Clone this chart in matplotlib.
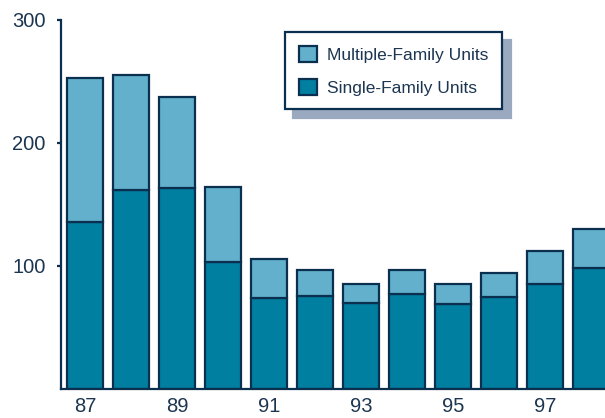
import matplotlib.pyplot as plt
import numpy as np

# Housing units by year (thousands)
years = ['87', '88', '89', '90', '91', '92', '93', '94', '95', '96', '97', '98']
single_family = [136, 162, 163, 103, 74, 76, 70, 77, 69, 75, 85, 98]
multiple_family = [117, 93, 74, 61, 32, 21, 15, 20, 16, 19, 27, 32]

navy = '#0b2f4f'
dark_teal = '#007fa1'
light_teal = '#62b0cb'
text_color = '#1c3550'

plt.rcParams['font.family'] = ['Liberation Sans', 'DejaVu Sans']

fig = plt.figure(figsize=(6.05, 4.18), dpi=100)
ax = fig.add_axes([0.1008, 0.0694, 0.899, 0.8828])

x = np.arange(len(years))
ax.bar(x, single_family, width=0.78, color=dark_teal, edgecolor=navy,
       linewidth=1.6, label='Single-Family Units')
ax.bar(x, multiple_family, width=0.78, bottom=single_family, color=light_teal,
       edgecolor=navy, linewidth=1.6, label='Multiple-Family Units')

ax.set_xlim(-0.522, 11.3)
ax.set_ylim(0, 300)
ax.set_yticks([100, 200, 300])
ax.set_xticks(x[::2])
ax.set_xticklabels(years[::2])

for side in ['top', 'right']:
    ax.spines[side].set_visible(False)
for side in ['left', 'bottom']:
    ax.spines[side].set_color(navy)
    ax.spines[side].set_linewidth(1.6)

ax.tick_params(axis='y', colors=navy, labelcolor=text_color, labelsize=14.5,
               length=3, width=1.6, pad=8)
ax.tick_params(axis='x', colors=navy, labelcolor=text_color, labelsize=14.5,
               length=0, pad=6)

handles, labels = ax.get_legend_handles_labels()
leg = ax.legend(handles[::-1], labels[::-1], loc='upper left',
                bbox_to_anchor=(0.412, 0.967), borderaxespad=0,
                fancybox=False, frameon=True, fontsize=12.5,
                handlelength=1.04, handleheight=1.04, handletextpad=0.57,
                labelspacing=0.9, borderpad=0.8, labelcolor=text_color,
                shadow={'ox': 6, 'oy': -6, 'color': '#9aa8c0', 'alpha': 1})
leg.get_frame().set_edgecolor(navy)
leg.get_frame().set_linewidth(1.6)

plt.savefig('out.png', dpi=100)
